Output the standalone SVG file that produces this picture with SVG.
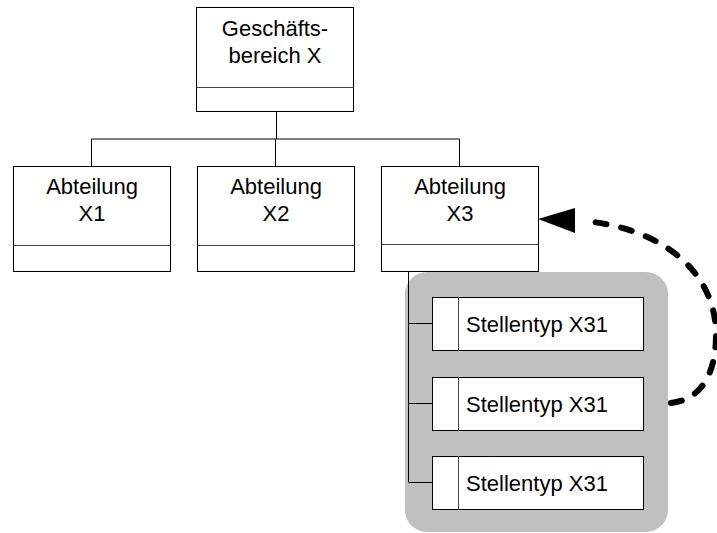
<svg xmlns="http://www.w3.org/2000/svg" width="717" height="533" viewBox="0 0 717 533">
<style>
.box{fill:#fff;stroke:#000;stroke-width:1}
.div{stroke:#444;stroke-width:1;fill:none}
.t{font-family:"Liberation Sans",Arial,sans-serif;font-size:22px;fill:#000;text-anchor:middle}
.tl{font-family:"Liberation Sans",Arial,sans-serif;font-size:22px;fill:#000}
.conn{stroke:#000;stroke-width:1;fill:none}
</style>
<rect width="717" height="533" fill="#fff"/>
<rect id="group-bg" x="405" y="272" width="263" height="260" rx="22" fill="#c0c0c0"/>
<g id="connectors">
<path class="conn" d="M276.5,111 V139 M91.5,139 H459.5 M91.5,139 V166 M275.5,139 V166 M459.5,139 V166"/>
<path class="conn" d="M408.5,271 V482.5 M408.5,323.5 H432 M408.5,403.5 H432 M408.5,482.5 H432"/>
<path d="M671,403 C700,400 716,375 716,335 C716,270 660,228 584,221" fill="none" stroke="#000" stroke-width="6" stroke-dasharray="11 15" stroke-linecap="round"/>
<polygon points="538,219 575,208 575,233" fill="#000"/>
</g>
<g id="n-geschaeftsbereich">
<rect class="box" x="196.5" y="7.5" width="157" height="104"/>
<line class="div" x1="196.5" y1="87.5" x2="353.5" y2="87.5"/>
<text class="t" x="275" y="36">Geschäfts-</text>
<text class="t" x="275" y="63">bereich X</text>
</g>
<g id="n-x1">
<rect class="box" x="13.5" y="166.5" width="157" height="105"/>
<line class="div" x1="13.5" y1="245.5" x2="170.5" y2="245.5"/>
<text class="t" x="92" y="194">Abteilung</text>
<text class="t" x="92" y="221">X1</text>
</g>
<g id="n-x2">
<rect class="box" x="197.5" y="166.5" width="157" height="105"/>
<line class="div" x1="197.5" y1="245.5" x2="354.5" y2="245.5"/>
<text class="t" x="276" y="194">Abteilung</text>
<text class="t" x="276" y="221">X2</text>
</g>
<g id="n-x3">
<rect class="box" x="381.5" y="166.5" width="157" height="105"/>
<line class="div" x1="381.5" y1="244.5" x2="538.5" y2="244.5"/>
<text class="t" x="460" y="194">Abteilung</text>
<text class="t" x="460" y="221">X3</text>
</g>
<g id="n-x31a">
<rect class="box" x="432.5" y="297.5" width="211" height="53"/>
<line class="div" x1="458.5" y1="297.5" x2="458.5" y2="350.5"/>
<text class="tl" x="466" y="332">Stellentyp X31</text>
</g>
<g id="n-x31b">
<rect class="box" x="432.5" y="377.5" width="211" height="53"/>
<line class="div" x1="458.5" y1="377.5" x2="458.5" y2="430.5"/>
<text class="tl" x="466" y="412">Stellentyp X31</text>
</g>
<g id="n-x31c">
<rect class="box" x="432.5" y="456.5" width="211" height="53"/>
<line class="div" x1="458.5" y1="456.5" x2="458.5" y2="509.5"/>
<text class="tl" x="466" y="491">Stellentyp X31</text>
</g>
</svg>
